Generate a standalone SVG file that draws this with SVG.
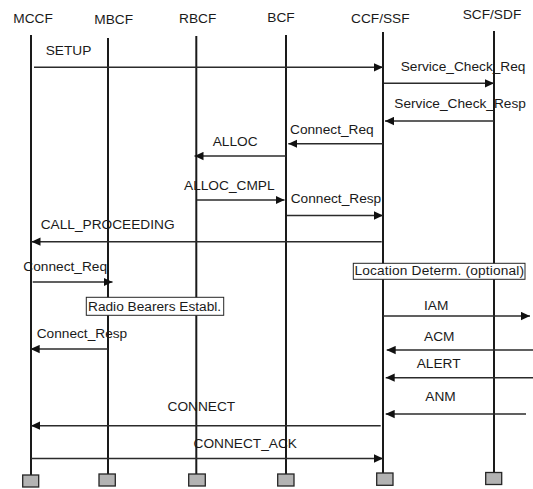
<svg xmlns="http://www.w3.org/2000/svg" width="533" height="489" viewBox="0 0 533 489">
<defs>
<style>
text{font-family:"Liberation Sans",Arial,sans-serif;font-size:13.7px;fill:#1a1a1a}
.life{stroke:#1a1a1a;stroke-width:2;fill:none}
.foot{fill:#b3b3b3;stroke:#262626;stroke-width:1.3}
.msg{stroke:#2b2b2b;stroke-width:1.5;fill:none;marker-end:url(#ah)}
.note{fill:#fff;stroke:#262626;stroke-width:1}
</style>
<marker id="ah" markerUnits="userSpaceOnUse" markerWidth="9" markerHeight="9" viewBox="0 0 8 8" refX="8" refY="4" orient="auto">
<path d="M0,0.3 L8,4 L0,7.7 z" fill="#111"/>
</marker>
</defs>
<rect width="533" height="489" fill="#fff"/>
<g id="MCCF"><text x="13.3" y="23.3">MCCF</text><line class="life" x1="31" y1="35" x2="31" y2="475"/><rect class="foot" x="22.7" y="475" width="16" height="12"/></g>
<g id="MBCF"><text x="94.3" y="24.3">MBCF</text><line class="life" x1="108" y1="38" x2="108" y2="474"/><rect class="foot" x="99" y="474" width="16.3" height="12"/></g>
<g id="RBCF"><text x="179" y="22.7">RBCF</text><line class="life" x1="196.3" y1="36" x2="196.3" y2="474"/><rect class="foot" x="188.7" y="474" width="16.6" height="12"/></g>
<g id="BCF"><text x="267.3" y="21.7">BCF</text><line class="life" x1="286" y1="35" x2="286" y2="474"/><rect class="foot" x="277.7" y="474" width="16.3" height="12"/></g>
<g id="CCF_SSF"><text x="351" y="22.7">CCF/SSF</text><line class="life" x1="383" y1="32" x2="383" y2="473"/><rect class="foot" x="376.7" y="473" width="16.3" height="12.3"/></g>
<g id="SCF_SDF"><text x="462.7" y="19">SCF/SDF</text><line class="life" x1="494" y1="31" x2="494" y2="472.5"/><rect class="foot" x="485.7" y="472.5" width="16" height="12"/></g>
<g id="notes">
<g id="loc"><rect class="note" x="353.3" y="263.3" width="171.7" height="16"/><text x="354.5" y="275.3" textLength="169.5">Location Determ. (optional)</text></g>
<g id="radio"><rect class="note" x="86.3" y="297.3" width="137.4" height="18"/><text x="88" y="311.3">Radio Bearers Establ.</text></g>
</g>
<g id="connectors">
<line class="msg" x1="34" y1="67.3" x2="383" y2="67.3"/>
<line class="msg" x1="384" y1="83.3" x2="494" y2="83.3"/>
<line class="msg" x1="494" y1="121" x2="385" y2="121"/>
<line class="msg" x1="383" y1="143.7" x2="288.3" y2="143.7"/>
<line class="msg" x1="286" y1="156" x2="194.5" y2="156"/>
<line class="msg" x1="197" y1="200" x2="284.5" y2="200"/>
<line class="msg" x1="287" y1="215.5" x2="383" y2="215.5"/>
<line class="msg" x1="381.7" y1="241.7" x2="31.5" y2="241.7"/>
<line class="msg" x1="32.7" y1="282" x2="112.5" y2="282"/>
<line class="msg" x1="383" y1="316" x2="530" y2="316"/>
<line class="msg" x1="108" y1="349" x2="30.7" y2="349"/>
<line class="msg" x1="533" y1="350" x2="386.7" y2="350"/>
<line class="msg" x1="533" y1="377.7" x2="385.7" y2="377.7"/>
<line class="msg" x1="526" y1="414" x2="385.7" y2="414"/>
<line class="msg" x1="380.7" y1="425.7" x2="31" y2="425.7"/>
<line class="msg" x1="31" y1="458.5" x2="383" y2="458.5"/>
</g>
<g id="labels">
<text x="45.7" y="55">SETUP</text>
<text x="400.7" y="71">Service_Check_Req</text>
<text x="394.3" y="108.3">Service_Check_Resp</text>
<text x="290" y="134">Connect_Req</text>
<text x="212.7" y="146">ALLOC</text>
<text x="184" y="190">ALLOC_CMPL</text>
<text x="290.7" y="202.7">Connect_Resp</text>
<text x="40.7" y="229.3">CALL_PROCEEDING</text>
<text x="23.3" y="271">Connect_Req</text>
<text x="424" y="310">IAM</text>
<text x="36.7" y="338">Connect_Resp</text>
<text x="424" y="341">ACM</text>
<text x="416.7" y="368.3">ALERT</text>
<text x="425.3" y="400.7">ANM</text>
<text x="167.5" y="411">CONNECT</text>
<text x="193.5" y="447.5">CONNECT_ACK</text>
</g>
</svg>
